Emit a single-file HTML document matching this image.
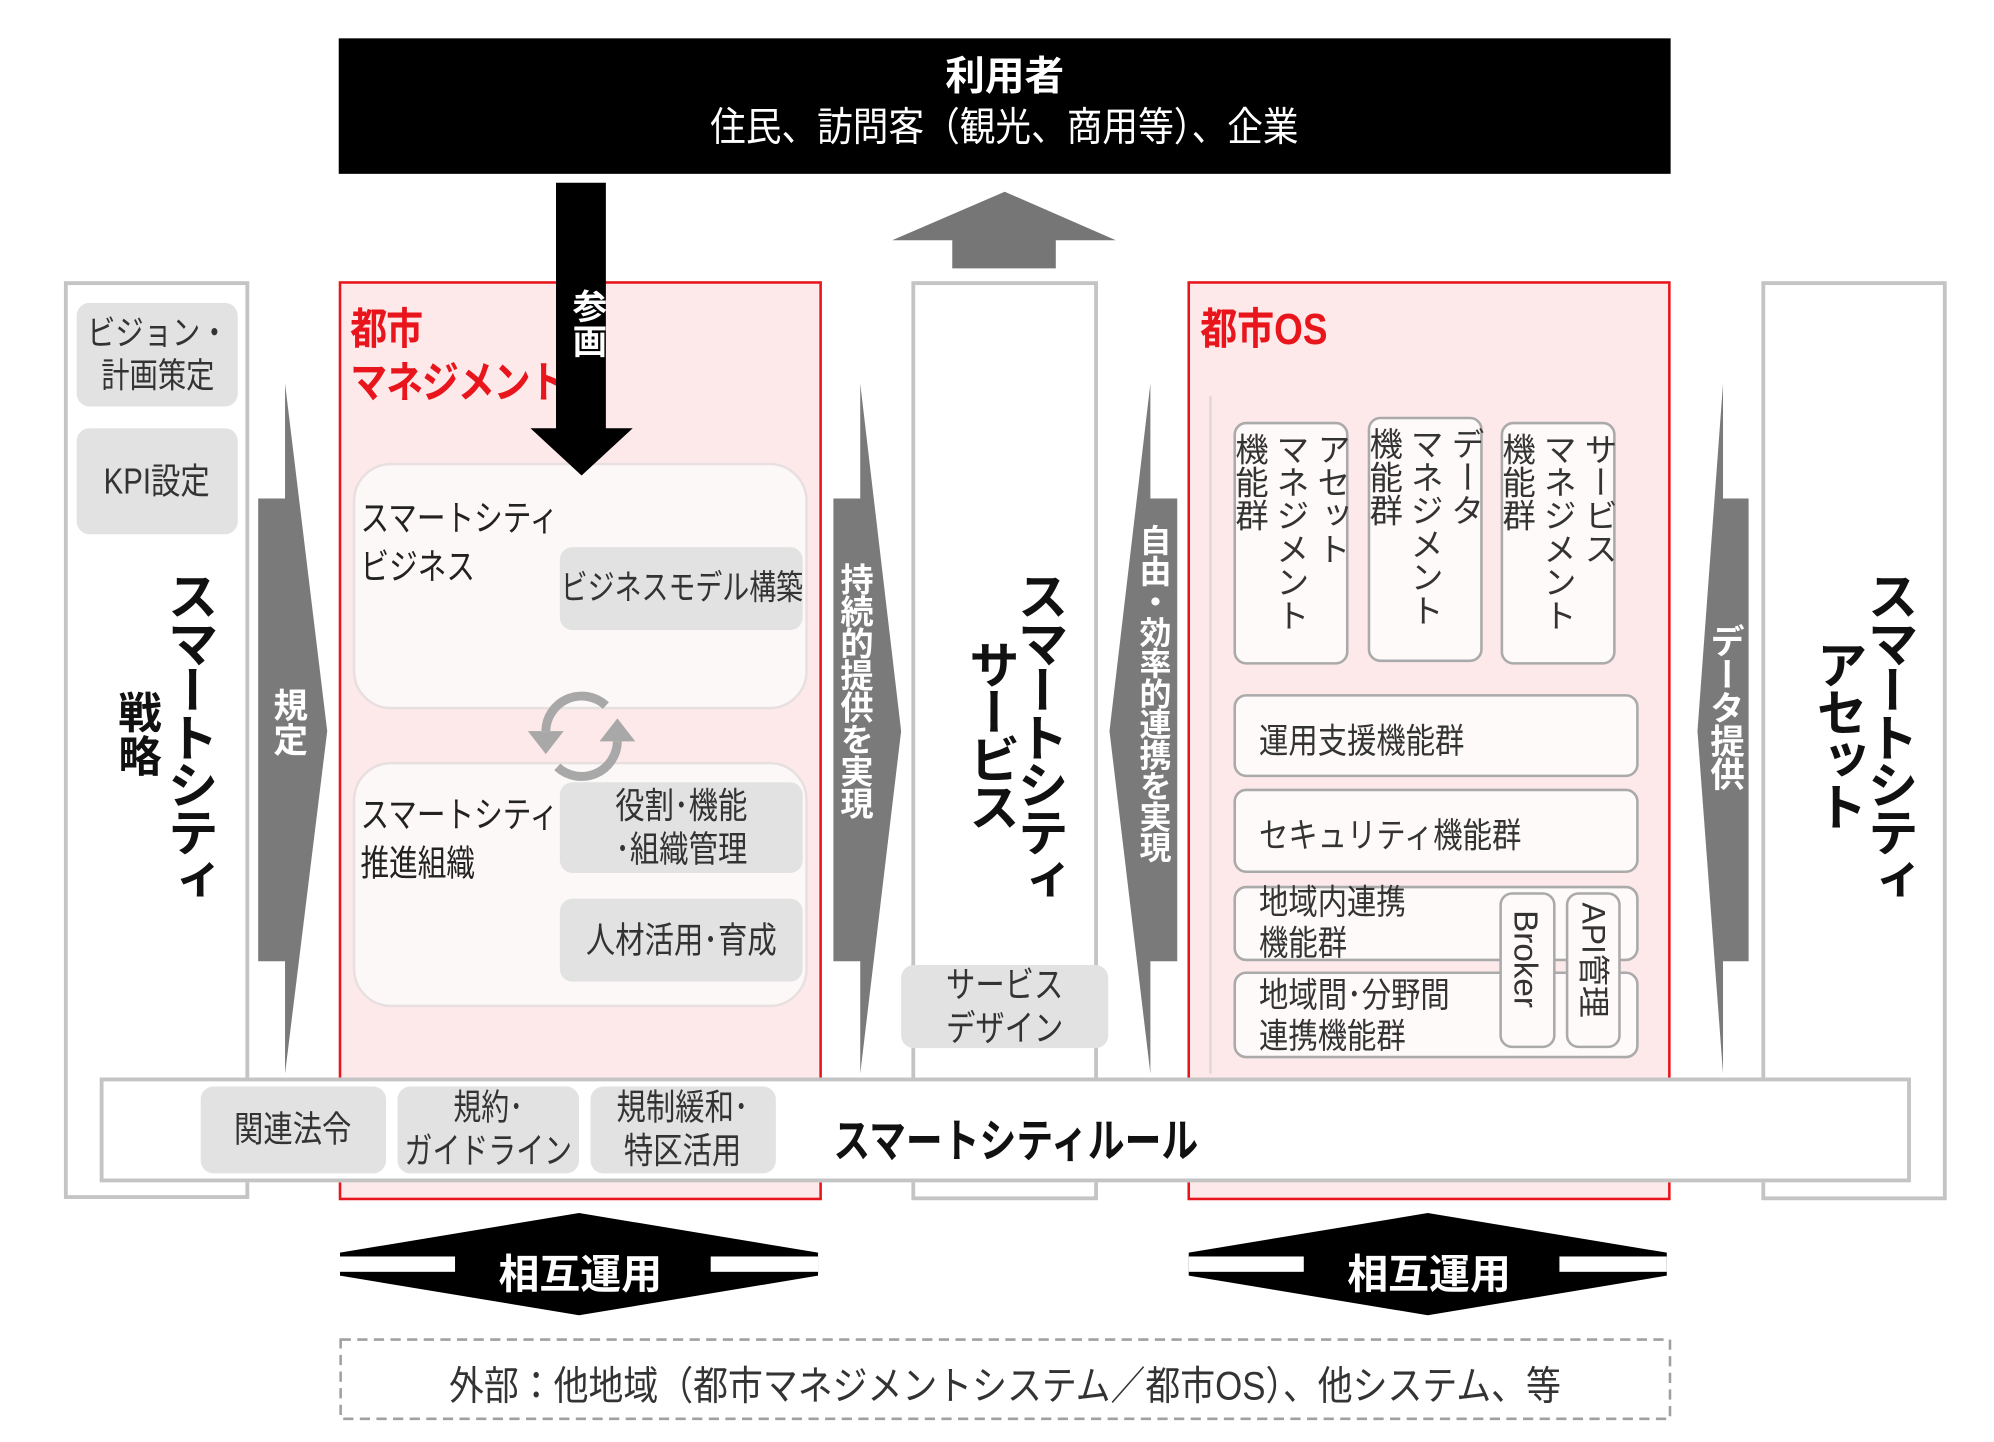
<!DOCTYPE html>
<html><head><meta charset="utf-8">
<style>
html,body{margin:0;padding:0;background:#fff;width:1994px;height:1442px;overflow:hidden}
#w{position:absolute;left:0;top:0;width:1560px;height:1128px;transform:scale(1.27821);transform-origin:0 0;font-family:"Liberation Sans","Noto Sans CJK JP",sans-serif;color:#222}
.a{position:absolute;box-sizing:border-box}
.col{border:3px solid #c4c4c4;background:#fff}
.red{border:2.5px solid #e8161c;background:#fde9ea}
.gb{background:#e2e2e2;border-radius:10px;display:flex;align-items:center;justify-content:center;text-align:center;font-size:27px;line-height:1.2;color:#333;white-space:nowrap}
.gb span{display:inline-block;transform:scaleX(.82)}
.rb{background:#fdf8f8;border:2px solid #e8e0e0;border-radius:30px}
.wb{background:#fffafa;border:2px solid #aaa;border-radius:10px}
.v{writing-mode:vertical-rl}
.t{position:absolute;white-space:nowrap}
.sx{transform:scaleX(.85);transform-origin:0 0}
</style></head><body><div id="w">

<div class="a" style="left:265px;top:30px;width:1042px;height:106px;background:#000;color:#fff;text-align:center">
<div style="font-size:31px;font-weight:bold;margin-top:12px;line-height:36px">利用者</div>
<div style="font-size:31px;line-height:44px"><span style="display:inline-block;transform:scaleX(.9)">住民、訪問客（観光、商用等）、企業</span></div>
</div>

<svg class="a" style="left:0;top:0" width="1560" height="1128">
<polygon points="786,150 873,188 826,188 826,210 745,210 745,188 698,188" fill="#767676"/>
</svg>

<div class="a col" style="left:50px;top:220px;width:145px;height:718px"></div>
<div class="a gb" style="left:60px;top:237px;width:126px;height:81px;font-size:27px"><span>ビジョン・<br>計画策定</span></div>
<div class="a gb" style="left:60px;top:335px;width:126px;height:83px;font-size:28px"><span>KPI設定</span></div>
<div class="t v" style="left:118px;top:446px;font-size:40px;font-weight:bold;color:#111;letter-spacing:-3px">スマートシティ</div>
<div class="t v" style="left:82px;top:540px;font-size:34px;font-weight:bold;color:#111">戦略</div>

<div class="a red" style="left:265px;top:220px;width:378px;height:719px"></div>
<div class="t sx" style="left:274px;top:237px;font-size:34px;font-weight:bold;color:#e8161c;line-height:42px;letter-spacing:-1px">都市<br>マネジメント</div>
<div class="a rb" style="left:276px;top:362px;width:356px;height:193px"></div>
<div class="t sx" style="left:282px;top:387px;font-size:28px;line-height:38px;transform:scaleX(.8)">スマートシティ<br>ビジネス</div>
<div class="a gb" style="left:438px;top:428px;width:190px;height:65px;font-size:27px"><span style="transform:scaleX(.78)">ビジネスモデル構築</span></div>
<div class="a rb" style="left:276px;top:596px;width:356px;height:192px"></div>
<div class="t sx" style="left:282px;top:619px;font-size:28px;line-height:38px;transform:scaleX(.8)">スマートシティ<br>推進組織</div>
<div class="a gb" style="left:438px;top:612px;width:190px;height:71px;font-size:28px"><span>役割･機能<br>･組織管理</span></div>
<div class="a gb" style="left:438px;top:703px;width:190px;height:65px;font-size:28px"><span>人材活用･育成</span></div>

<svg class="a" style="left:0;top:0" width="1560" height="1128">
<polygon points="435,143 474,143 474,335 495,335 455,372 415,335 435,335" fill="#000"/>
<path d="M427,572 A28,28 0 0 1 474,552" stroke="#a8a8a8" stroke-width="7" fill="none"/>
<polygon points="413,572 441,572 427,590" fill="#a8a8a8"/>
<path d="M483,580 A28,28 0 0 1 436,600" stroke="#a8a8a8" stroke-width="7" fill="none"/>
<polygon points="469,580 497,580 483,562" fill="#a8a8a8"/>
<polygon points="202,390 223,390 223,300 256,572 223,840 223,752 202,752" fill="#7a7a7a"/>
<polygon points="652,390 673,390 673,300 705,572 673,840 673,752 652,752" fill="#7a7a7a"/>
<polygon points="921,390 900,390 900,300 868,572 900,840 900,752 921,752" fill="#7a7a7a"/>
<polygon points="1368,390 1348,390 1348,300 1328,572 1348,840 1348,752 1368,752" fill="#7a7a7a"/>
</svg>
<div class="t v" style="left:440px;top:226px;font-size:27px;color:#fff;font-weight:bold">参画</div>
<div class="t v" style="left:206px;top:538px;font-size:27px;color:#fff;font-weight:bold">規定</div>
<div class="t v" style="left:656px;top:440px;font-size:26px;color:#fff;font-weight:bold;letter-spacing:-1px;line-height:1">持続的提供を実現</div>
<div class="t v" style="left:889px;top:410px;font-size:25px;color:#fff;font-weight:bold;letter-spacing:-1px;line-height:1">自由・効率的連携を実現</div>
<div class="t v" style="left:1335px;top:488px;font-size:27px;color:#fff;font-weight:bold;letter-spacing:-1px;line-height:1">データ提供</div>

<div class="a col" style="left:713px;top:220px;width:146px;height:719px"></div>
<div class="t v" style="left:783px;top:446px;font-size:40px;font-weight:bold;color:#111;letter-spacing:-3px">スマートシティ</div>
<div class="t v" style="left:745px;top:500px;font-size:40px;font-weight:bold;color:#111;letter-spacing:-3px">サービス</div>
<div class="a gb" style="left:705px;top:755px;width:162px;height:65px;font-size:28px"><span>サービス<br>デザイン</span></div>

<div class="a red" style="left:929px;top:220px;width:378px;height:719px"></div>
<div class="t sx" style="left:939px;top:237px;font-size:34px;font-weight:bold;color:#e8161c;line-height:42px">都市OS</div>
<div class="a" style="left:946px;top:310px;width:2px;height:530px;background:#e0d8d8"></div>
<div class="a wb" style="left:965px;top:330px;width:90px;height:190px"></div>
<div class="a wb" style="left:1070px;top:326px;width:90px;height:192px"></div>
<div class="a wb" style="left:1174px;top:330px;width:90px;height:190px"></div>
<div class="t v" style="left:962px;top:338px;font-size:26px;line-height:32px;color:#333">アセット<br>マネジメント<br>機能群</div>
<div class="t v" style="left:1067px;top:334px;font-size:26px;line-height:32px;color:#333">データ<br>マネジメント<br>機能群</div>
<div class="t v" style="left:1171px;top:338px;font-size:26px;line-height:32px;color:#333">サービス<br>マネジメント<br>機能群</div>
<div class="a wb" style="left:965px;top:543px;width:317px;height:65px"></div>
<div class="t sx" style="left:985px;top:558px;font-size:27px;color:#333">運用支援機能群</div>
<div class="a wb" style="left:965px;top:617px;width:317px;height:66px"></div>
<div class="t sx" style="left:985px;top:632px;font-size:27px;color:#333">セキュリティ機能群</div>
<div class="a wb" style="left:965px;top:693px;width:317px;height:59px"></div>
<div class="t sx" style="left:985px;top:690px;font-size:27px;line-height:32px;color:#333">地域内連携<br>機能群</div>
<div class="a wb" style="left:965px;top:760px;width:317px;height:68px"></div>
<div class="t sx" style="left:985px;top:763px;font-size:27px;line-height:32px;color:#333">地域間･分野間<br>連携機能群</div>
<div class="a wb" style="left:1173px;top:698px;width:44px;height:122px"></div>
<div class="a wb" style="left:1225px;top:698px;width:43px;height:122px"></div>
<div class="t v" style="left:1178px;top:712px;font-size:26px;color:#333;text-orientation:sideways">Broker</div>
<div class="t v" style="left:1230px;top:706px;font-size:25px;color:#333;text-orientation:sideways">API管理</div>

<div class="a col" style="left:1378px;top:220px;width:145px;height:719px"></div>
<div class="t v" style="left:1448px;top:446px;font-size:40px;font-weight:bold;color:#111;letter-spacing:-3px">スマートシティ</div>
<div class="t v" style="left:1408px;top:500px;font-size:40px;font-weight:bold;color:#111;letter-spacing:-3px">アセット</div>

<div class="a" style="left:78px;top:843px;width:1417px;height:82px;background:#fff;border:3px solid #c4c4c4"></div>
<div class="a gb" style="left:157px;top:850px;width:145px;height:68px;font-size:28px"><span>関連法令</span></div>
<div class="a gb" style="left:311px;top:850px;width:142px;height:68px;font-size:28px"><span style="transform:scaleX(.78)">規約･<br>ガイドライン</span></div>
<div class="a gb" style="left:462px;top:850px;width:145px;height:68px;font-size:28px"><span>規制緩和･<br>特区活用</span></div>
<div class="t sx" style="left:652px;top:864px;font-size:36px;font-weight:bold;color:#111;transform:scaleX(.8)">スマートシティルール</div>

<svg class="a" style="left:0;top:0" width="1560" height="1128">
<polygon points="266,980 453,949 640,980 640,998 453,1029 266,998" fill="#000"/>
<rect x="266" y="983" width="90" height="12" fill="#fff"/>
<rect x="556" y="983" width="84" height="12" fill="#fff"/>
<polygon points="930,980 1117,949 1304,980 1304,998 1117,1029 930,998" fill="#000"/>
<rect x="930" y="983" width="90" height="12" fill="#fff"/>
<rect x="1220" y="983" width="84" height="12" fill="#fff"/>
<rect x="266.5" y="1048" width="1040" height="62" fill="none" stroke="#a0a0a0" stroke-width="2" stroke-dasharray="8,5"/>
</svg>
<div class="t" style="left:390px;top:972px;font-size:32px;font-weight:bold;color:#fff">相互運用</div>
<div class="t" style="left:1054px;top:972px;font-size:32px;font-weight:bold;color:#fff">相互運用</div>
<div class="t" style="left:266px;top:1059px;width:1040px;text-align:center;font-size:31px;color:#333"><span style="display:inline-block;transform:scaleX(.88)">外部：他地域（都市マネジメントシステム／都市OS）、他システム、等</span></div>

</div></body></html>
